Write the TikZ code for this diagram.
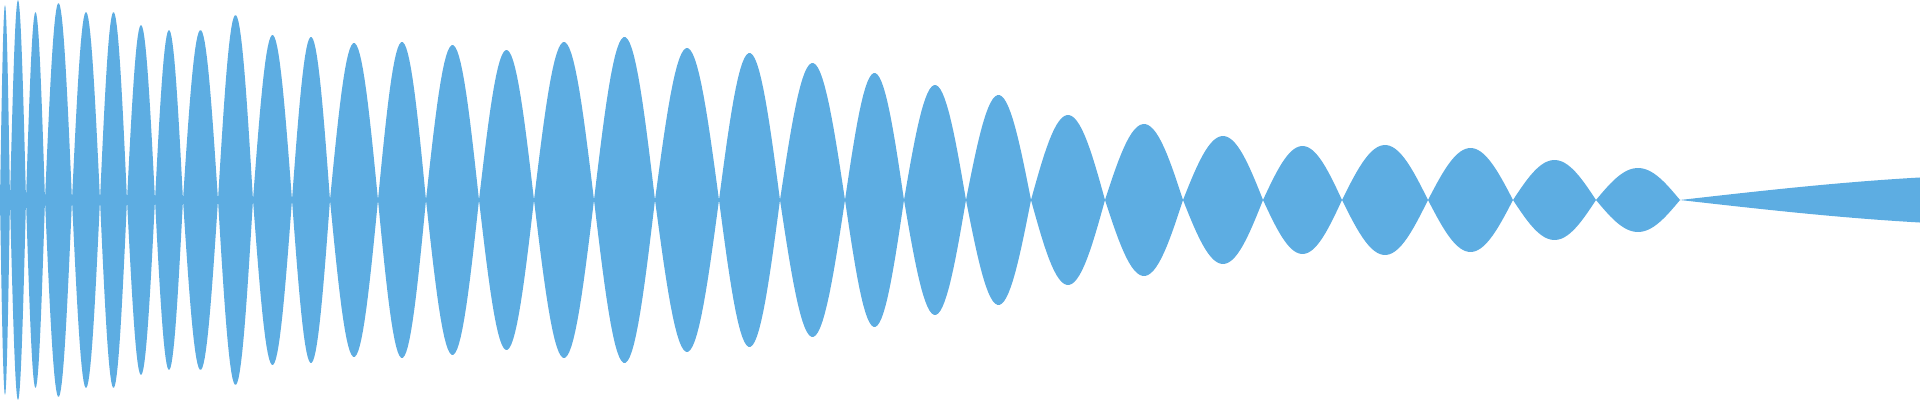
\documentclass[tikz,border=0pt]{standalone}
\definecolor{wave}{HTML}{5DADE2}
\begin{document}
\begin{tikzpicture}[x=0.01cm,y=-0.01cm]
\useasboundingbox (0,0) rectangle (1920,400);
\foreach \a/\b/\h in {0/10/195,10/26/200,26/45/188,45/72/197,72/100/188,100/127/188,127/155/175,155/183/170,183/218/170,218/253/185,253/292/165,292/330/163,330/378/157,378/426/158,426/479/155,479/534/150,534/594/158,594/655/163,655/719/152,719/780/147,780/845/137,845/904/127,904/966/115,966/1031/105,1031/1105/85,1105/1183/76,1183/1263/64,1263/1342/54,1342/1428/55,1428/1513/52,1513/1596/40,1596/1680/32,1680/2400/26}{
  \pgfmathsetmacro{\k}{180/(\b-\a)}
  \pgfmathsetmacro{\e}{min(\b,1920)}
  \fill[wave] (\a,200) -- plot[domain=\a:\e,samples=30] (\x,{200-\h*sin(\k*(\x-\a))})
     -- plot[domain=\e:\a,samples=30] (\x,{200+\h*sin(\k*(\x-\a))}) -- cycle;
}
\end{tikzpicture}
\end{document}
